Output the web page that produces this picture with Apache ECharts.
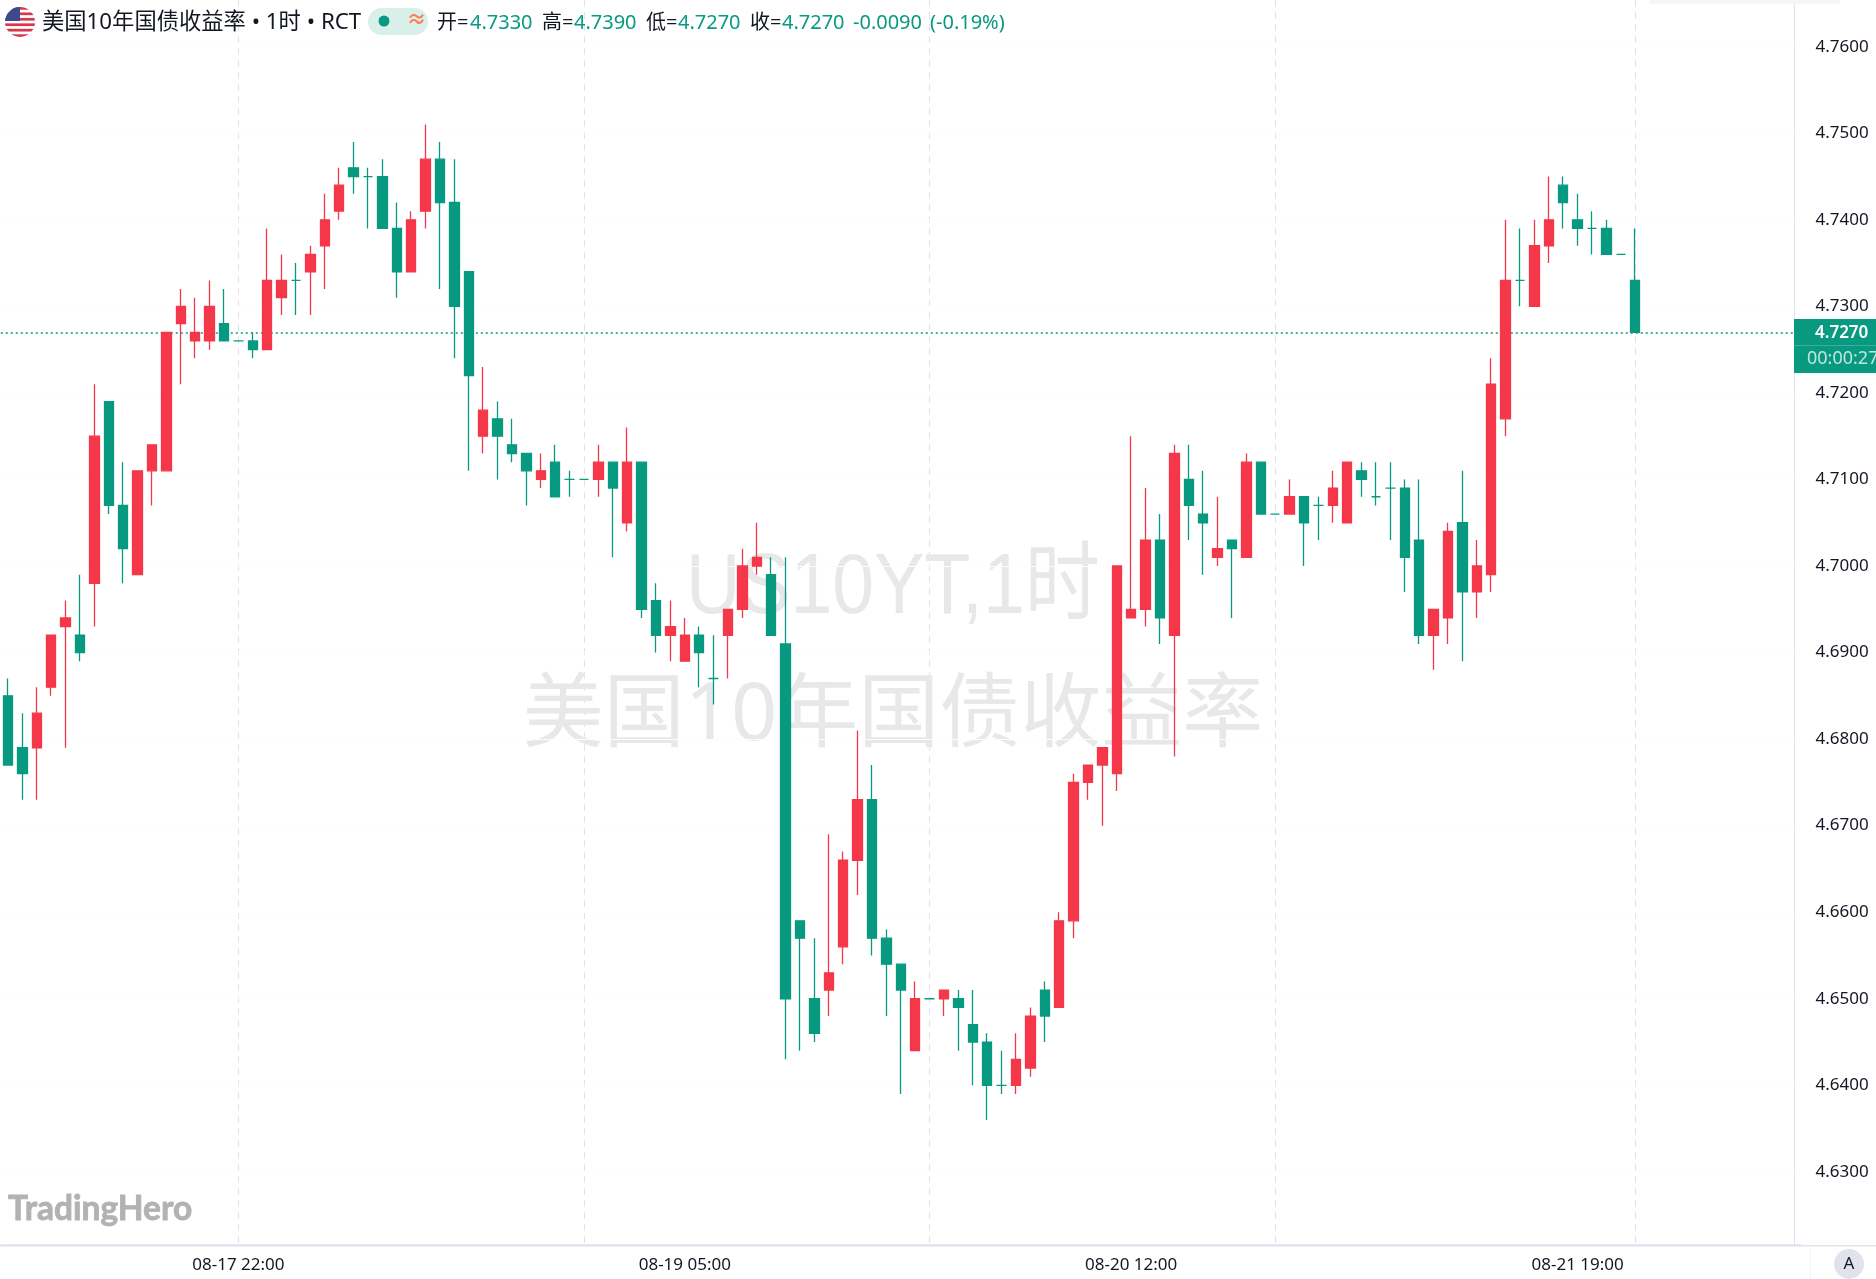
<!DOCTYPE html>
<html>
<head>
<meta charset="utf-8">
<style>html,body{margin:0;padding:0;background:#fff}#c{width:1876px;height:1279px}</style>
<script src="https://cdn.jsdelivr.net/npm/echarts@6/dist/echarts.min.js"></script>
</head>
<body>
<div id="c"></div>
<script>
const opens = [4.685,4.679,4.679,4.686,4.693,4.692,4.698,4.719,4.707,4.699,4.711,4.711,4.728,4.726,4.726,4.728,4.726,4.726,4.725,4.731,
4.733,4.734,4.737,4.741,4.746,4.745,4.745,4.739,4.734,4.741,4.747,4.742,4.734,4.715,4.717,4.714,4.713,4.710,4.712,4.710,
4.710,4.710,4.712,4.705,4.712,4.696,4.692,4.689,4.692,4.687,4.692,4.695,4.700,4.699,4.691,4.659,4.650,4.651,4.656,4.666,
4.673,4.657,4.654,4.644,4.650,4.650,4.650,4.647,4.645,4.640,4.640,4.642,4.651,4.649,4.659,4.675,4.677,4.676,4.694,4.695,
4.703,4.692,4.710,4.706,4.701,4.703,4.701,4.712,4.706,4.706,4.708,4.707,4.707,4.705,4.711,4.708,4.709,4.709,4.703,4.692,
4.694,4.705,4.697,4.699,4.717,4.733,4.730,4.737,4.744,4.740,4.739,4.739,4.736,4.733];
const closes = [4.677,4.676,4.683,4.692,4.694,4.690,4.715,4.707,4.702,4.711,4.714,4.727,4.730,4.727,4.730,4.726,4.726,4.725,4.733,4.733,
4.733,4.736,4.740,4.744,4.745,4.745,4.739,4.734,4.740,4.747,4.742,4.730,4.722,4.718,4.715,4.713,4.711,4.711,4.708,4.710,
4.710,4.712,4.709,4.712,4.695,4.692,4.693,4.692,4.690,4.687,4.695,4.700,4.701,4.692,4.650,4.657,4.646,4.653,4.666,4.673,
4.657,4.654,4.651,4.650,4.650,4.651,4.649,4.645,4.640,4.640,4.643,4.648,4.648,4.659,4.675,4.677,4.679,4.700,4.695,4.703,
4.694,4.713,4.707,4.705,4.702,4.702,4.712,4.706,4.706,4.708,4.705,4.707,4.709,4.712,4.710,4.708,4.709,4.701,4.692,4.695,
4.704,4.697,4.700,4.721,4.733,4.733,4.737,4.740,4.742,4.739,4.739,4.736,4.736,4.727];
const lows = [4.677,4.673,4.673,4.685,4.679,4.689,4.693,4.706,4.698,4.699,4.707,4.711,4.721,4.724,4.725,4.726,4.726,4.724,4.725,4.729,
4.729,4.729,4.732,4.740,4.743,4.739,4.739,4.731,4.734,4.739,4.732,4.724,4.711,4.713,4.710,4.712,4.707,4.709,4.708,4.708,
4.710,4.708,4.701,4.704,4.694,4.690,4.689,4.689,4.686,4.684,4.687,4.694,4.699,4.692,4.643,4.644,4.645,4.648,4.654,4.662,
4.655,4.648,4.639,4.644,4.650,4.648,4.644,4.640,4.636,4.639,4.639,4.641,4.645,4.649,4.657,4.673,4.670,4.674,4.694,4.693,
4.691,4.678,4.703,4.699,4.700,4.694,4.701,4.706,4.706,4.706,4.700,4.703,4.705,4.705,4.708,4.707,4.703,4.697,4.691,4.688,
4.691,4.689,4.694,4.697,4.715,4.730,4.730,4.735,4.739,4.737,4.736,4.736,4.736,4.727];
const highs = [4.687,4.683,4.686,4.692,4.696,4.699,4.721,4.719,4.712,4.711,4.714,4.727,4.732,4.731,4.733,4.732,4.726,4.727,4.739,4.736,
4.735,4.737,4.743,4.746,4.749,4.746,4.747,4.742,4.741,4.751,4.749,4.747,4.734,4.723,4.719,4.717,4.713,4.713,4.714,4.711,
4.710,4.714,4.712,4.716,4.712,4.698,4.696,4.694,4.693,4.692,4.695,4.702,4.705,4.701,4.701,4.659,4.657,4.669,4.667,4.681,
4.677,4.658,4.654,4.652,4.650,4.651,4.651,4.651,4.646,4.644,4.646,4.649,4.652,4.660,4.676,4.677,4.679,4.700,4.715,4.709,
4.706,4.714,4.714,4.711,4.708,4.703,4.713,4.712,4.706,4.710,4.708,4.708,4.711,4.712,4.712,4.712,4.712,4.710,4.710,4.695,
4.705,4.711,4.703,4.724,4.740,4.739,4.740,4.745,4.745,4.743,4.741,4.740,4.736,4.739];
const priceTicks = [4.63,4.64,4.65,4.66,4.67,4.68,4.69,4.70,4.71,4.72,4.73,4.74,4.75,4.76];
const timeLabels = {16:'08-17 22:00',47:'08-19 05:00',78:'08-20 12:00',109:'08-21 19:00'};
const dashedIdx = [16,40,64,88,113];
const titleText = '美国10年国债收益率 • 1时 • RCT';
const lastQuote = {o:'4.7330',h:'4.7390',l:'4.7270',c:'4.7270',chg:'-0.0090',pct:'(-0.19%)'};
const lastPrice = 4.727;
const countdown = '00:00:27';
const watermark = ['US10YT,1时','美国10年国债收益率'];
const totalBands = 125;

const categories = [];
for (let i = 0; i < totalBands; i++) categories.push(timeLabels[i] || ('h' + i));
const ohlc = opens.map((o, i) => [o, closes[i], lows[i], highs[i]]);

const GREEN = '#089981', RED = '#F5374A', AXIS = '#E0E3EB';
const FONT = '"Noto Sans","Noto Sans CJK SC",sans-serif';
const flagSvg = 'data:image/svg+xml;utf8,' + encodeURIComponent(
 '<svg xmlns="http://www.w3.org/2000/svg" width="30" height="30"><defs><clipPath id="a"><circle cx="15" cy="15" r="15"/></clipPath></defs><g clip-path="url(#a)"><rect width="30" height="30" fill="#fff"/>' +
 [0,2,4,6,8,10].map(k => '<rect y="' + (k*30/11) + '" width="30" height="' + (30/11) + '" fill="#D6394B"/>').join('') +
 '<rect width="15" height="14" fill="#3B4A8C"/></g></svg>');

function t(x, y, text, fill, font) {
  return {type:'text', x, y, z:50, silent:true,
    style:{text, fill, font:font+' '+FONT, textVerticalAlign:'middle'}};
}
const chart = echarts.init(document.getElementById('c'));
chart.setOption({
  animation:false,
  backgroundColor:'#fff',
  grid:{left:0.8, top:0, width:1800, height:1245, containLabel:false},
  xAxis:{type:'category', data:categories, boundaryGap:true,
    axisLine:{show:true, lineStyle:{color:AXIS, width:1.5}},
    axisTick:{show:false},
    axisLabel:{interval:(i)=>timeLabels[i]!==undefined, formatter:(v)=>v, color:'#131722', fontSize:17, fontFamily:FONT, margin:12, hideOverlap:false},
    splitLine:{show:true, alignWithLabel:true, interval:(i)=>dashedIdx.includes(i), lineStyle:{color:AXIS, type:[7,5], width:1}}
  },
  yAxis:{type:'value', position:'right', min:4.76-(1245-46.7)/8655, max:4.76+46.7/8655, offset:-6.3, scale:true,
    axisLine:{show:true, lineStyle:{color:AXIS, width:1}},
    axisTick:{show:false},
    axisLabel:{customValues:priceTicks, formatter:(v)=>v.toFixed(4), color:'#131722', fontSize:17, fontFamily:FONT, margin:21, align:'left', padding:[5,0,0,0]},
    splitLine:{show:false}
  },
  series:[{
    type:'candlestick', data:ohlc, barWidth:10, z:5,
    itemStyle:{color:RED, color0:GREEN, borderColor:RED, borderColor0:GREEN, borderColorDoji:GREEN, borderWidth:1.3},
    markLine:{silent:true, symbol:'none', animation:false, label:{show:false}, precision:4,
      lineStyle:{color:GREEN, type:[2,3], width:1.6},
      data:[{yAxis:lastPrice}].concat(priceTicks.map(v => ({yAxis:v, lineStyle:{color:'#FDFDFD', type:'solid', width:1}})))}
  }],
  graphic:{elements:[
    {type:'text', x:893, y:589, scaleX:0.875, z:1, silent:true, style:{text:watermark[0], fill:'#E7E8EA', font:'86px "Liberation Sans","Noto Sans CJK SC",sans-serif', textAlign:'center', textVerticalAlign:'middle'}},
    {type:'text', x:893, y:717, z:1, silent:true, style:{text:watermark[1], fill:'#E7E8EA', font:'81px '+FONT, textAlign:'center', textVerticalAlign:'middle'}},
    {type:'image', x:5, y:7, z:50, silent:true, style:{image:flagSvg, width:30, height:30}},
    t(42, 23, titleText, '#131722', '22.3px'),
    {type:'rect', z:49, silent:true, shape:{x:368, y:8, width:60, height:27, r:13.5}, style:{fill:'#D9F0EA'}},
    {type:'circle', z:50, silent:true, shape:{cx:384, cy:21, r:5.5}, style:{fill:GREEN}},
    t(406.5, 21, '≈', '#FF7F50', 'bold 20px'),
    t(437, 23, '开=', '#131722', '20px'), t(470, 23, lastQuote.o, GREEN, '20px'),
    t(542, 23, '高=', '#131722', '20px'), t(574, 23, lastQuote.h, GREEN, '20px'),
    t(646, 23, '低=', '#131722', '20px'), t(678, 23, lastQuote.l, GREEN, '20px'),
    t(750, 23, '收=', '#131722', '20px'), t(782, 23, lastQuote.c, GREEN, '20px'),
    t(853, 23, lastQuote.chg, GREEN, '20px'), t(930, 23, lastQuote.pct, GREEN, '20px'),
    {type:'rect', z:40, silent:true, shape:{x:0, y:1245, width:1876, height:1.5}, style:{fill:AXIS}},
    {type:'rect', z:40, silent:true, shape:{x:1810, y:1246, width:1, height:33}, style:{fill:'#F0F3FA'}},
    {type:'rect', z:40, silent:true, shape:{x:1650, y:0, width:190, height:4}, style:{fill:'#F6F6F6'}},
    {type:'rect', z:41, silent:true, shape:{x:1794, y:319, width:82, height:54}, style:{fill:GREEN}},
    {type:'rect', z:42, silent:true, shape:{x:1794, y:345, width:82, height:1}, style:{fill:'#3DAE9A'}},
    t(1815, 333, lastPrice.toFixed(4), '#FFFFFF', '600 17px'),
    t(1807, 359, countdown, '#BFE5DE', '18px'),
    {type:'circle', z:40, silent:true, shape:{cx:1849, cy:1264, r:15}, style:{fill:AXIS}},
    {type:'text', x:1849, y:1264, z:50, silent:true, style:{text:'A', fill:'#131722', font:'17px '+FONT, textAlign:'center', textVerticalAlign:'middle'}},
    {type:'text', x:8, y:1209, z:50, silent:true, style:{text:'TradingHero', fill:'#B2B2B2', stroke:'#B2B2B2', lineWidth:0.8, font:'bold 33.5px Lato,'+FONT, textVerticalAlign:'middle'}}
  ]}
});
</script>
</body>
</html>
